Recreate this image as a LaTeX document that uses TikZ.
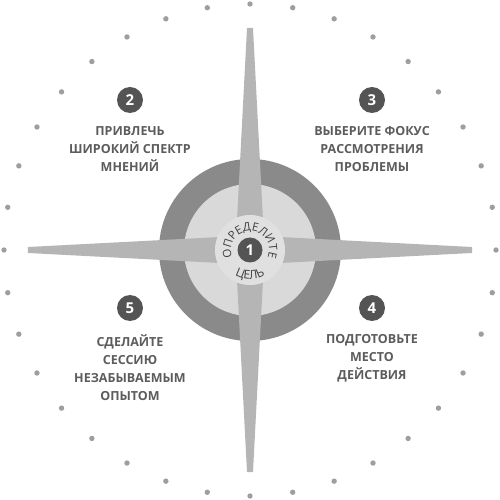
\documentclass[tikz,border=0pt]{standalone}
\usepackage{fontspec}
\setmainfont{Open Sans}
\usepackage{tikz}
\usetikzlibrary{positioning,decorations.text}
\definecolor{ringColor}{gray}{0.54}
\definecolor{discColor}{gray}{0.85}
\definecolor{armColor}{gray}{0.71}
\definecolor{hubColor}{gray}{0.88}
\definecolor{numColor}{gray}{0.33}
\definecolor{penColor}{gray}{0.36}
\definecolor{dotColor}{gray}{0.62}
\tikzset{numDot/.style={circle,fill=numColor,text=white,inner sep=0pt,
    minimum size=26pt,font=\bfseries\fontsize{15}{15}\selectfont},
  stepLabel/.style={align=center,text=penColor,inner sep=0pt,
    font=\bfseries\fontsize{12.5}{18}\selectfont,
    execute at begin node={\strut}}}

\begin{document}
\begin{tikzpicture}[x=1pt,y=1pt,line cap=round]

  \useasboundingbox (-250,-250) rectangle (250,250);

  \foreach \a in {0,10,...,350}
    \fill [dotColor] (\a:246) circle (2.7);


  \fill [ringColor] (0,0) circle (91);
  \fill [discColor] (0,0) circle (66);

  \foreach \a in {0,90,180,270}
    \fill [armColor,rotate=\a] (30,-13) -- (222,-3) -- (222,3) -- (30,13) -- cycle;

  \fill [hubColor] (0,0) circle (35);

  \node [numDot,minimum size=25pt] (n1) at (0,0) {1};

  \path [decorate,decoration={text along path,text align=center,
      text color=penColor!70!black,
      text={|\fontsize{11.5}{11.5}\selectfont|ОПРЕДЕЛИТЕ}}]
    (212:19) arc [start angle=212,end angle=-32,radius=19];
  \path [decorate,decoration={text along path,text align=center,
      text color=penColor!70!black,
      text={|\fontsize{12}{12}\selectfont|ЦЕЛЬ}}]
    (225:29.5) arc [start angle=225,end angle=315,radius=29.5];


  \node [numDot] (n2) at (-120,150) {2};
  \node [numDot] (n3) at (122,150) {3};
  \node [numDot] (n4) at (122,-58) {4};
  \node [numDot] (n5) at (-120,-58) {5};

  \node [stepLabel,below=13pt of n2] (t2) {ПРИВЛЕЧЬ\\ШИРОКИЙ СПЕКТР\\МНЕНИЙ};
  \node [stepLabel,below=13pt of n3] (t3) {ВЫБЕРИТЕ ФОКУС\\РАССМОТРЕНИЯ\\ПРОБЛЕМЫ};
  \node [stepLabel,below=13pt of n4] (t4) {ПОДГОТОВЬТЕ\\МЕСТО\\ДЕЙСТВИЯ};
  \node [stepLabel,below=13pt of n5] (t5) {СДЕЛАЙТЕ\\СЕССИЮ\\НЕЗАБЫВАЕМЫМ\\ОПЫТОМ};

\end{tikzpicture}
\end{document}
